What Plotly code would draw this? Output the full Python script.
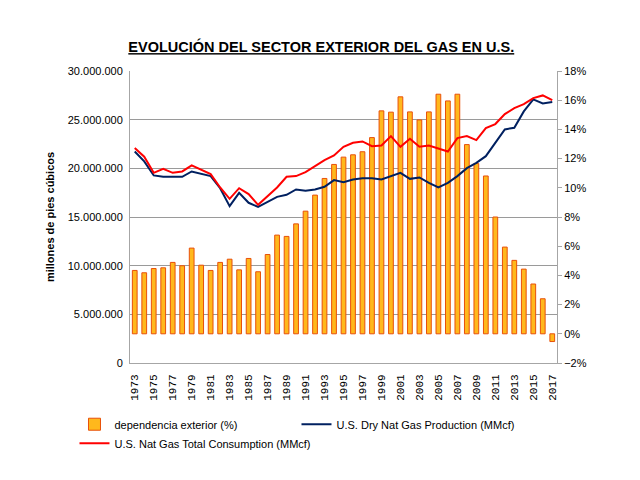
import plotly.graph_objects as go

years = list(range(1973, 2018))

dependencia_pct = [4.34, 4.18, 4.47, 4.52, 4.89, 4.66, 5.87, 4.70, 4.34, 4.89,
                   5.11, 4.38, 5.16, 4.25, 5.43, 6.76, 6.67, 7.53, 8.40, 9.50,
                   10.64, 11.60, 12.10, 12.26, 12.47, 13.44, 15.27, 15.18, 16.23, 15.20,
                   14.65, 15.20, 16.41, 15.95, 16.41, 12.96, 11.66, 10.81, 8.00, 5.94,
                   5.03, 4.43, 3.41, 2.40, -0.53]

production_mmcf = [21730000, 20710000, 19270000, 19130000, 19130000, 19130000, 19680000, 19400000, 19200000, 17960000,
                   16110000, 17480000, 16460000, 16040000, 16520000, 17070000, 17280000, 17830000, 17690000, 17830000,
                   18100000, 18790000, 18580000, 18860000, 18990000, 18990000, 18860000, 19200000, 19540000, 18920000,
                   19060000, 18510000, 18030000, 18510000, 19200000, 20020000, 20570000, 21250000, 22630000, 24000000,
                   24170000, 25850000, 27080000, 26670000, 26810000]

consumption_mmcf = [22080000, 21190000, 19540000, 19950000, 19540000, 19680000, 20300000, 19820000, 19400000, 18030000,
                    16870000, 17960000, 17350000, 16250000, 17140000, 18030000, 19130000, 19200000, 19610000, 20230000,
                    20840000, 21320000, 22210000, 22630000, 22760000, 22280000, 22350000, 23310000, 22210000, 23040000,
                    22210000, 22350000, 22010000, 21730000, 23110000, 23310000, 22900000, 24130000, 24550000, 25570000,
                    26190000, 26600000, 27220000, 27490000, 27010000]

title_text = "EVOLUCIÓN DEL SECTOR EXTERIOR DEL GAS EN U.S."
y_left_title = "millones de pies cúbicos"
names = ["dependencia exterior (%)", "U.S. Dry Nat Gas Production (MMcf)",
         "U.S. Nat Gas Total Consumption (MMcf)"]

sans = "Liberation Sans, Arial, sans-serif"

fig = go.Figure()
fig.add_trace(go.Bar(x=years, y=dependencia_pct, name=names[0], yaxis="y",
                     marker=dict(color="#FFB81C", line=dict(color="#E8500A", width=1)),
                     width=0.5))
fig.add_trace(go.Scatter(x=years, y=production_mmcf, name=names[1], yaxis="y2",
                         mode="lines", line=dict(color="#002060", width=2)))
fig.add_trace(go.Scatter(x=years, y=consumption_mmcf, name=names[2], yaxis="y2",
                         mode="lines", line=dict(color="#FF0000", width=2)))

fig.update_layout(
    width=640, height=480,
    margin=dict(l=130, r=83, t=71, b=117),
    paper_bgcolor="white", plot_bgcolor="white",
    separators=",.",
    bargap=0.5,
    showlegend=True,
    title=dict(text="<b><span style='text-decoration:underline'>" + title_text + "</span></b>",
               x=0.502, xanchor="center", y=0.902, yanchor="middle",
               font=dict(family=sans, size=14.5, color="black")),
    xaxis=dict(range=[1972.5, 2017.5], tickmode="linear", tick0=1973, dtick=2,
               tickangle=-90, showgrid=False, showline=True, linecolor="#A6A6A6",
               linewidth=1, ticks="", zeroline=False, ticklabelstandoff=6,
               tickfont=dict(family="Liberation Mono, DejaVu Sans Mono, monospace", size=11, color="black")),
    yaxis=dict(side="right", range=[-2, 18], dtick=2, ticksuffix="%", showgrid=False,
               zeroline=False, showline=True, linecolor="#A6A6A6", ticks="outside",
               ticklen=4, tickcolor="#A6A6A6",
               tickfont=dict(family=sans, size=11, color="black")),
    yaxis2=dict(side="left", overlaying="y", range=[0, 30000000], dtick=5000000,
                tickformat=",d", showgrid=True, gridcolor="#9A9A9A", gridwidth=1,
                zeroline=False, showline=True, linecolor="#A6A6A6", ticklabelstandoff=4,
                title=dict(text="<b>" + y_left_title + "</b>", standoff=10,
                           font=dict(family=sans, size=11, color="black")),
                tickfont=dict(family=sans, size=11, color="black")),
    legend=dict(orientation="h", x=-0.13, xanchor="left", y=-0.16, yanchor="top",
                entrywidth=177, entrywidthmode="pixels", traceorder="normal",
                font=dict(family=sans, size=11, color="black"),
                bgcolor="rgba(0,0,0,0)", itemwidth=30),
)

fig.write_html("out.html")
